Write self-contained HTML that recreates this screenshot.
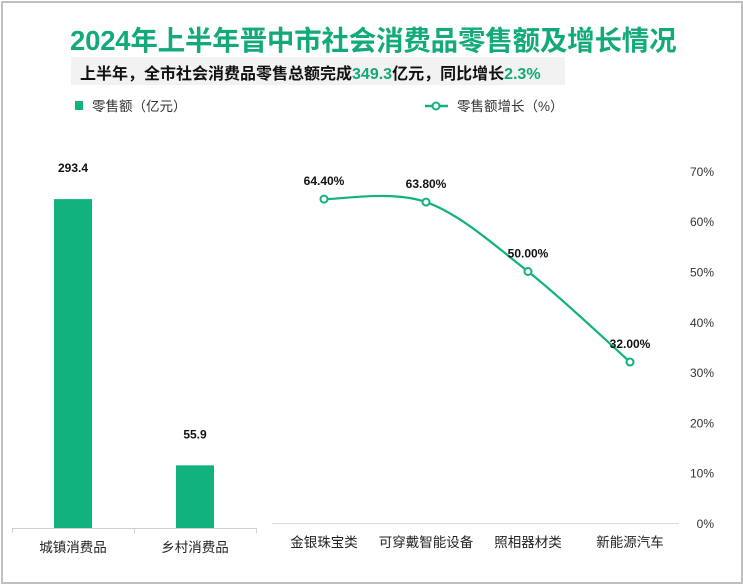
<!DOCTYPE html>
<html><head><meta charset="utf-8">
<style>
html,body{margin:0;padding:0;background:#fff;}
body{width:743px;height:585px;position:relative;overflow:hidden;font-family:"Liberation Sans","Noto Sans CJK SC",sans-serif;}
#frame{position:absolute;left:1px;top:1px;width:738px;height:579px;border:2px solid #bfbfbf;}
#title{position:absolute;left:70px;top:18px;width:604px;text-align:center;font-size:27.5px;font-weight:bold;color:#12aa7a;white-space:nowrap;letter-spacing:-0.2px;}
#sub{position:absolute;left:71px;top:57px;width:494px;height:28px;background:#f2f2f2;}
#subtxt{position:absolute;left:80px;top:60px;font-size:16px;font-weight:bold;color:#111;white-space:nowrap;}
#subtxt .g{color:#12aa7a;}
svg{position:absolute;left:0;top:0;}
</style></head><body>
<div id="frame"></div>
<div id="title">2024年上半年晋中市社会消费品零售额及增长情况</div>
<div id="sub"></div>
<div id="subtxt">上半年，全市社会消费品零售总额完成<span class="g">349.3</span>亿元，同比增长<span class="g">2.3%</span></div>
<svg id="chart" width="743" height="585"></svg>
<script>
const barCats=["城镇消费品","乡村消费品"];
const barVals=[293.4,55.9];
const lineCats=["金银珠宝类","可穿戴智能设备","照相器材类","新能源汽车"];
const lineVals=[64.4,63.8,50.0,32.0];
const pctTicks=[0,10,20,30,40,50,60,70];

const NS="http://www.w3.org/2000/svg";
const svg=document.getElementById('chart');
const G="#12b27f";
function mk(t,a,txt){const e=document.createElementNS(NS,t);for(const k in a)e.setAttribute(k,a[k]);if(txt!==undefined)e.textContent=txt;svg.appendChild(e);return e;}

// legend
let e=mk('rect',{x:75,y:101,width:8,height:9,fill:G});


e=mk('text',{x:92,y:111,'font-size':13.5,fill:'#333'},'零售额（亿元）');


e=mk('line',{x1:425,y1:106,x2:448,y2:106,stroke:G,'stroke-width':2.5});


e=mk('circle',{cx:436,cy:106,r:3.5,fill:'#fff',stroke:G,'stroke-width':2});


e=mk('text',{x:457,y:111,'font-size':13.5,fill:'#333'},'零售额增长（%）');



// bar chart
const bBase=528, bScale=1.121, bL=12, bW=122;
function barY(v){return bBase-v*bScale;}
e=mk('line',{x1:bL,y1:bBase+0.5,x2:bL+bW*barCats.length,y2:bBase+0.5,stroke:'#d0d0d0'});


for(let i=0;i<=barCats.length;i++){
  e=mk('line',{x1:bL+i*bW+0.5,y1:bBase,x2:bL+i*bW+0.5,y2:bBase+5,stroke:'#d0d0d0'});
  
  
}
barCats.forEach((c,i)=>{
  const cx=bL+bW*i+bW/2, w=38;
  const y=barY(barVals[i]);
  let r=mk('rect',{x:cx-w/2,y:y,width:w,height:bBase-y,fill:G});
  
  
  let t=mk('text',{x:cx,y:y-27,'font-size':12,'font-weight':'bold','text-anchor':'middle',fill:'#111'},barVals[i].toFixed(1));
  
  
  t=mk('text',{x:cx,y:552,'font-size':13.5,'text-anchor':'middle',fill:'#222'},c);
  
  
});

// line chart
const lBase=523, lPx=5.03, lX0=324, lStep=102;
function ly(v){return lBase-v*lPx;}
function lx(i){return lX0+i*lStep;}
e=mk('line',{x1:272,y1:lBase+0.5,x2:679,y2:lBase+0.5,stroke:'#d9d9d9'});


pctTicks.forEach(p=>{
  let t=mk('text',{x:714,y:ly(p)+5,'font-size':12,'text-anchor':'end',fill:'#333'},p+'%');
  
  
});
lineCats.forEach((c,i)=>{
  let t=mk('text',{x:lx(i),y:547,'font-size':13.5,'text-anchor':'middle',fill:'#222'},c);
  
  
});
const pts=lineVals.map((v,i)=>[lx(i),ly(v)]);
let d='M'+pts[0][0]+','+pts[0][1];
for(let i=0;i<pts.length-1;i++){
  const p0=pts[i-1]||pts[i],p1=pts[i],p2=pts[i+1],p3=pts[i+2]||p2;
  const c1=[p1[0]+(p2[0]-p0[0])/6,p1[1]+(p2[1]-p0[1])/6];
  const c2=[p2[0]-(p3[0]-p1[0])/6,p2[1]-(p3[1]-p1[1])/6];
  d+=' C'+c1+' '+c2+' '+p2;
}
e=mk('path',{d:d,fill:'none',stroke:G,'stroke-width':2.2});


pts.forEach((p,i)=>{
  let c=mk('circle',{cx:p[0],cy:p[1],r:3.5,fill:'#fff',stroke:G,'stroke-width':2});
  
  
  let t=mk('text',{x:p[0],y:p[1]-14,'font-size':12,'font-weight':'bold','text-anchor':'middle',fill:'#111'},lineVals[i].toFixed(2)+'%');
  
  
});
</script>
</body></html>
